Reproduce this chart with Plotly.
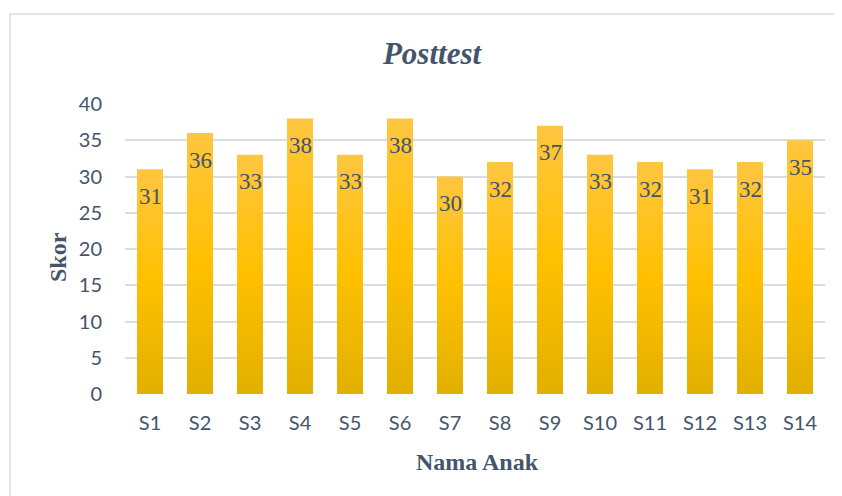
import plotly.graph_objects as go

# data
anak = ['S1', 'S2', 'S3', 'S4', 'S5', 'S6', 'S7', 'S8', 'S9', 'S10', 'S11', 'S12', 'S13', 'S14']
skor = [31, 36, 33, 38, 33, 38, 30, 32, 37, 33, 32, 31, 32, 35]
y_ticks = [0, 5, 10, 15, 20, 25, 30, 35, 40]

text_col = '#44546A'
grid_col = '#D9DDE3'
gold_scale = [[0, '#E2B000'], [0.5, '#FFC000'], [1, '#FFC640']]
half_w = 0.26

# the page body has an 8px margin, so the figure is drawn 8px in from the corner
W, H = 834, 488
L, T, R, B = 117, 96, 17, 102
pw, ph = W - L - R, H - T - B

fig = go.Figure()

# bars as filled polygons so each one gets its own vertical gradient
for i, v in enumerate(skor):
    fig.add_trace(go.Scatter(
        x=[i - half_w, i + half_w, i + half_w, i - half_w, i - half_w],
        y=[0, 0, v, v, 0],
        mode='lines',
        fill='toself',
        line=dict(width=0, color='rgba(0,0,0,0)'),
        fillgradient=dict(type='vertical', start=0, stop=v, colorscale=gold_scale),
        hoverinfo='skip',
        showlegend=False,
    ))

# value labels, inside end like Excel
for i, v in enumerate(skor):
    fig.add_annotation(
        x=i, y=v, xref='x', yref='y',
        text=str(v), showarrow=False,
        yanchor='middle', yshift=-27,
        font=dict(family='Liberation Serif', size=23, color=text_col),
    )

# axis titles
fig.add_annotation(
    x=(58 - 8 - L) / pw, y=(T + ph - (257 - 8)) / ph, xref='paper', yref='paper',
    text='<b>Skor</b>', textangle=-90, showarrow=False,
    xanchor='center', yanchor='middle',
    font=dict(family='Liberation Serif', size=24, color=text_col),
)
fig.add_annotation(
    x=(477 - 8 - L) / pw, y=(T + ph - (462 - 8)) / ph, xref='paper', yref='paper',
    text='<b>Nama Anak</b>', showarrow=False,
    xanchor='center', yanchor='middle',
    font=dict(family='Liberation Serif', size=24, color=text_col),
)

# chart border (runs off the right and bottom edges)
fig.add_shape(
    type='rect', xref='paper', yref='paper',
    x0=(10 - 8 - L) / pw, x1=(860 - 8 - L) / pw,
    y0=(T + ph - 520) / ph, y1=(T + ph - (14 - 8)) / ph,
    line=dict(color='#D9DEE5', width=1.5), fillcolor='rgba(0,0,0,0)', layer='below',
)

fig.update_layout(
    width=W, height=H,
    margin=dict(l=L, r=R, t=T, b=B),
    paper_bgcolor='white', plot_bgcolor='white',
    title=dict(
        text='<b><i>Posttest</i></b>',
        x=(432 - 8) / W, xref='container', xanchor='center',
        y=1 - (53 - 8) / H, yref='container', yanchor='middle',
        font=dict(family='Liberation Serif', size=31, color=text_col),
    ),
    xaxis=dict(
        range=[-0.5, len(anak) - 0.5],
        tickvals=list(range(len(anak))), ticktext=anak,
        showgrid=False, zeroline=False, showline=False,
        ticklabelstandoff=15,
        tickfont=dict(family='Lato', size=20, color=text_col),
    ),
    yaxis=dict(
        range=[0, 40],
        tickvals=y_ticks,
        showgrid=True, gridcolor=grid_col, gridwidth=1.5,
        zeroline=False, showline=False,
        ticklabelstandoff=22,
        tickfont=dict(family='Lato', size=20, color=text_col),
    ),
)

fig.write_html('out.html')
